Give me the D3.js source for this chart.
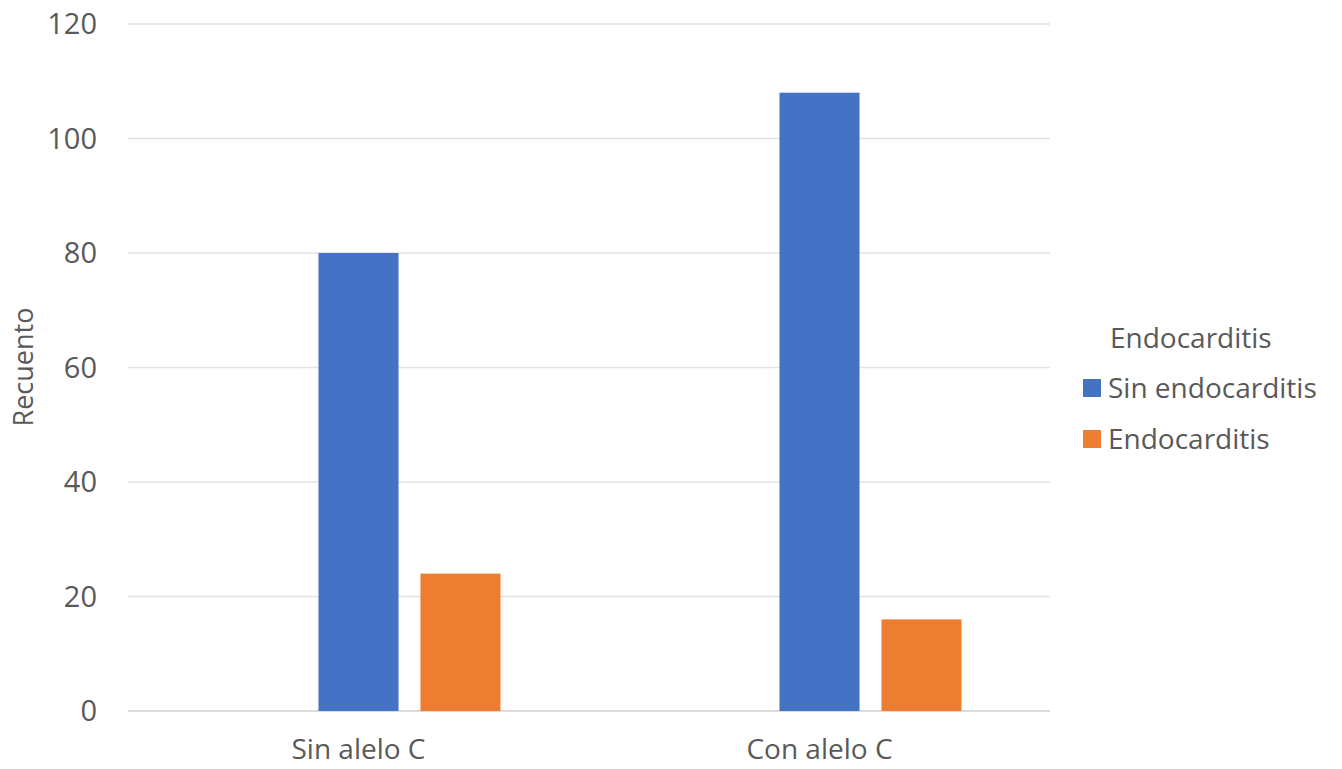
<!DOCTYPE html>
<html>
<head>
<meta charset="utf-8">
<script src="https://cdn.jsdelivr.net/npm/d3@7"></script>
<style>
  body { margin: 0; background: #fff; }
  text { font-family: "Open Sans", "Noto Sans", sans-serif; fill: #595959; }
</style>
</head>
<body>
<div id="chart"></div>
<script>
// categories and series values
const categories = ["Sin alelo C", "Con alelo C"];
const seriesNames = ["Sin endocarditis", "Endocarditis"];
const sinEndocarditis = [80, 108];
const endocarditis = [24, 16];
const yTicks = [0, 20, 40, 60, 80, 100, 120];
const colors = ["#4472c4", "#ed7d31"];

const width = 1342, height = 769;
const margin = { top: 24, right: 292, bottom: 58, left: 128 };

const svg = d3.select("#chart").append("svg")
    .attr("width", width)
    .attr("height", height);

const x = d3.scaleBand()
    .domain(categories)
    .range([margin.left, width - margin.right]);

// excel leaves an empty slot before the two series
const xSub = d3.scaleBand()
    .domain(["_empty"].concat(seriesNames))
    .range([88.5, x.bandwidth() - 88.5])
    .paddingInner(0.215);

const y = d3.scaleLinear()
    .domain([0, 120])
    .range([height - margin.bottom, margin.top]);

// gridlines
svg.append("g")
    .selectAll("line")
    .data(yTicks)
    .enter()
    .append("line")
    .attr("x1", margin.left)
    .attr("x2", width - margin.right)
    .attr("y1", d => y(d))
    .attr("y2", d => y(d))
    .attr("stroke", d => d === 0 ? "#d0d0d0" : "#e3e3e3")
    .attr("stroke-width", 1.5);

// y tick labels
svg.append("g")
    .selectAll("text")
    .data(yTicks)
    .enter()
    .append("text")
    .attr("x", 97)
    .attr("y", d => y(d))
    .attr("dy", "0.36em")
    .attr("text-anchor", "end")
    .attr("font-size", "29px")
    .text(d => d);

// bars
const rows = categories.map((c, i) => ({ cat: c, values: [sinEndocarditis[i], endocarditis[i]] }));
const groups = svg.append("g")
    .selectAll("g")
    .data(rows)
    .enter()
    .append("g")
    .attr("transform", d => `translate(${x(d.cat)},0)`);

groups.selectAll("rect")
    .data(d => d.values.map((v, j) => ({ key: seriesNames[j], value: v, j: j })))
    .enter()
    .append("rect")
    .attr("x", d => xSub(d.key))
    .attr("width", xSub.bandwidth())
    .attr("y", d => y(d.value))
    .attr("height", d => y(0) - y(d.value))
    .attr("fill", d => colors[d.j]);

// category labels
svg.append("g")
    .selectAll("text")
    .data(categories)
    .enter()
    .append("text")
    .attr("x", d => x(d) + x.bandwidth() / 2)
    .attr("y", 759)
    .attr("text-anchor", "middle")
    .attr("font-size", "28px")
    .text(d => d);

// y axis title
svg.append("text")
    .attr("transform", `translate(33, 367) rotate(-90)`)
    .attr("text-anchor", "middle")
    .attr("font-size", "27px")
    .text("Recuento");

// legend
const legend = svg.append("g");
legend.append("text")
    .attr("x", 1110)
    .attr("y", 348)
    .attr("font-size", "28px")
    .text("Endocarditis");

const items = legend.selectAll("g")
    .data(seriesNames)
    .enter()
    .append("g")
    .attr("transform", (d, i) => `translate(0, ${398 + i * 51})`);

items.append("rect")
    .attr("x", 1083)
    .attr("y", -19)
    .attr("width", 18)
    .attr("height", 18)
    .attr("fill", (d, i) => colors[i]);

items.append("text")
    .attr("x", 1108)
    .attr("y", 0)
    .attr("font-size", "28px")
    .text(d => d);
</script>
</body>
</html>
